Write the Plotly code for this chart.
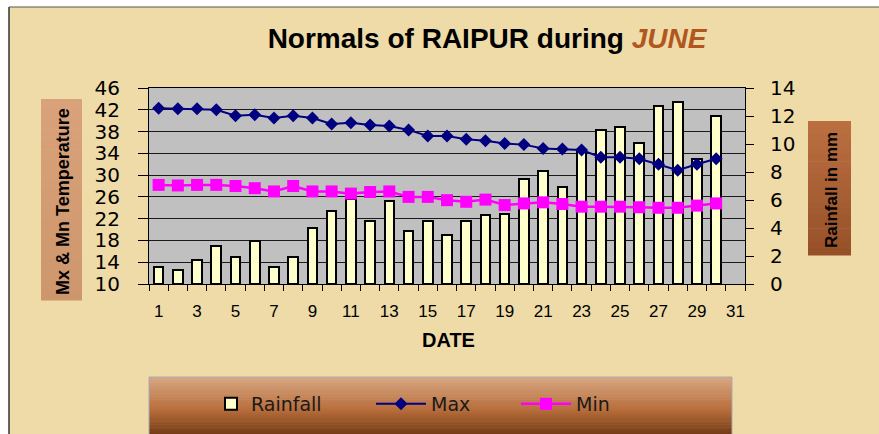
import plotly.graph_objects as go

# ---------------- data ----------------
days = list(range(1, 31))
rainfall = [1.2, 1.0, 1.7, 2.7, 1.9, 3.1, 1.2, 1.9, 4.0, 5.2,
            6.1, 4.5, 5.9, 3.8, 4.5, 3.5, 4.5, 4.9, 5.0, 7.5,
            8.1, 6.9, 9.4, 11.0, 11.2, 10.1, 12.7, 13.0, 8.9, 12.0]
tmax = [42.3, 42.2, 42.2, 42.0, 40.9, 41.1, 40.5, 40.9, 40.5, 39.4,
        39.6, 39.2, 39.0, 38.3, 37.2, 37.2, 36.6, 36.3, 35.8, 35.6,
        34.9, 34.8, 34.6, 33.3, 33.3, 33.0, 32.0, 30.9, 32.0, 33.0]
tmin = [28.2, 28.1, 28.2, 28.2, 28.0, 27.6, 27.0, 28.0, 27.0, 27.0,
        26.6, 26.9, 27.0, 26.0, 26.0, 25.4, 25.1, 25.5, 24.5, 24.8,
        25.0, 24.7, 24.2, 24.2, 24.2, 24.1, 24.0, 24.0, 24.4, 24.8]
date_ticks = list(range(1, 32, 2))
date_labels = [str(d) for d in date_ticks]
temp_ticks = list(range(10, 47, 4))
rain_ticks = list(range(0, 15, 2))

# ---------------- geometry helpers ----------------
W, H = 879, 434
PL, PR, PT, PB = 149, 745, 88, 284


def px(x):
    return (x - PL) / (PR - PL)


def py(y):
    return (PB - y) / (PB - PT)


TAN = "#EEDBA7"
FONT = "Liberation Sans, Arial, sans-serif"
WIDE = "DejaVu Sans, Verdana, sans-serif"

fig = go.Figure()

fig.add_trace(go.Bar(
    x=days, y=rainfall, name="Rainfall", yaxis="y",
    width=0.5, marker=dict(color="#FFFFCC", line=dict(color="black", width=2)),
    legend="legend",
))
fig.add_trace(go.Scatter(
    x=days, y=tmax, name="Max", yaxis="y2", mode="lines+markers",
    line=dict(color="#000080", width=2),
    marker=dict(symbol="diamond", size=10, color="#000080"),
    legend="legend2",
))
fig.add_trace(go.Scatter(
    x=days, y=tmin, name="Min", yaxis="y2", mode="lines+markers",
    line=dict(color="#FF00FF", width=2.5),
    marker=dict(symbol="square", size=12, color="#FF00FF"),
    legend="legend3",
))

shapes = []
# white strip at top / left with dark frame line
shapes.append(dict(type="rect", xref="paper", yref="paper", x0=px(-5), x1=px(W + 5),
                   y0=py(7), y1=py(-5), fillcolor="white", line=dict(width=0), layer="below"))
shapes.append(dict(type="rect", xref="paper", yref="paper", x0=px(-5), x1=px(9),
                   y0=py(H + 5), y1=py(-5), fillcolor="white", line=dict(width=0), layer="below"))
shapes.append(dict(type="line", xref="paper", yref="paper", x0=px(9), x1=px(9),
                   y0=py(7), y1=py(H + 5), line=dict(color="#333333", width=1.5)))
shapes.append(dict(type="line", xref="paper", yref="paper", x0=px(9), x1=px(W + 5),
                   y0=py(7), y1=py(7), line=dict(color="#555555", width=1)))


def gradient(x0, x1, y0, y1, stops, n=40):
    out = []
    h = (y1 - y0) / n
    for i in range(n):
        t = (i + 0.5) / n
        for j in range(len(stops) - 1):
            if stops[j][0] <= t <= stops[j + 1][0]:
                a, ca = stops[j]
                b, cb = stops[j + 1]
                f = (t - a) / (b - a)
                c = [round(ca[k] + (cb[k] - ca[k]) * f) for k in range(3)]
                break
        col = "rgb(%d,%d,%d)" % tuple(c)
        out.append(dict(type="rect", xref="paper", yref="paper",
                        x0=px(x0), x1=px(x1), y0=py(y0 + i * h), y1=py(y0 + (i + 1) * h + 0.6),
                        fillcolor=col, line=dict(width=0), layer="below"))
    return out


# legend box
shapes += gradient(149, 732, 377, 436,
                   [(0, (216, 168, 132)), (0.55, (184, 110, 60)), (1, (112, 56, 20))])
shapes.append(dict(type="rect", xref="paper", yref="paper", x0=px(149), x1=px(732),
                   y0=py(377), y1=py(436), line=dict(color="#A9A9B8", width=1)))
# left title box
shapes += gradient(41, 82, 99, 300,
                   [(0, (218, 162, 122)), (1, (206, 150, 108))], n=20)
# right title box
shapes += gradient(808, 851, 121, 255,
                   [(0, (188, 112, 66)), (1, (150, 80, 40))], n=20)

annotations = [
    dict(text="<b>Mx & Mn Temperature</b>", xref="paper", yref="paper",
         x=px(63), y=py(201), textangle=-90, showarrow=False,
         font=dict(family=FONT, size=18, color="black"), xanchor="center", yanchor="middle"),
    dict(text="<b>Rainfall in mm</b>", xref="paper", yref="paper",
         x=px(831), y=py(190), textangle=-90, showarrow=False,
         font=dict(family=FONT, size=17, color="black"), xanchor="center", yanchor="middle"),
    dict(text="<b>DATE</b>", xref="paper", yref="paper",
         x=px(448), y=py(340), showarrow=False,
         font=dict(family=FONT, size=20, color="black"), xanchor="center", yanchor="middle"),
]

legend_common = dict(xref="paper", yref="paper", yanchor="middle", xanchor="left",
                     bgcolor="rgba(0,0,0,0)", borderwidth=0,
                     font=dict(family=WIDE, size=19, color="#1a1a1a"))

fig.update_layout(
    width=W, height=H,
    margin=dict(l=PL, r=W - PR, t=PT, b=H - PB, pad=0, autoexpand=False),
    paper_bgcolor=TAN,
    plot_bgcolor="#C0C0C0",
    showlegend=True,
    bargap=0,
    title=dict(
        text="<b>Normals of RAIPUR during <i><span style='color:#B0561E'>JUNE</span></i></b>",
        x=487 / W, y=1 - 38 / H, xref="container", yref="container",
        xanchor="center", yanchor="middle",
        font=dict(family=FONT, size=28, color="black"),
    ),
    xaxis=dict(
        range=[0.5, 31.5], tickmode="array", tickvals=date_ticks, ticktext=date_labels,
        ticks="outside", ticklen=12, tickcolor="rgba(0,0,0,0)",
        minor=dict(tick0=0.5, dtick=1, ticks="outside", ticklen=6, tickcolor="black", tickwidth=1, showgrid=False),
        showline=True, linecolor="black", linewidth=1, mirror=True,
        showgrid=False, zeroline=False,
        tickfont=dict(family=FONT, size=17, color="black"),
    ),
    yaxis=dict(
        side="right", range=[0, 14], tickmode="array", tickvals=rain_ticks,
        ticks="outside", ticklen=8, tickcolor="black",
        showline=True, linecolor="black", linewidth=1,
        showgrid=False, zeroline=False, ticklabelstandoff=12,
        tickfont=dict(family=WIDE, size=20, color="black"),
    ),
    yaxis2=dict(
        side="left", overlaying="y", range=[10, 46], tickmode="array", tickvals=temp_ticks,
        ticks="outside", ticklen=10, tickcolor="black",
        showline=True, linecolor="black", linewidth=1,
        showgrid=True, gridcolor="#1a1a1a", gridwidth=1, zeroline=False,
        ticklabelstandoff=14,
        tickfont=dict(family=WIDE, size=20, color="black"),
    ),
    legend=dict(x=px(211), y=py(404), itemwidth=30, **legend_common),
    legend2=dict(x=px(371), y=py(404), itemwidth=50, **legend_common),
    legend3=dict(x=px(516), y=py(404), itemwidth=50, **legend_common),
    shapes=shapes,
    annotations=annotations,
)

fig.write_html("out.html", config={"displayModeBar": False},
               post_script="document.body.style.margin='0';")
